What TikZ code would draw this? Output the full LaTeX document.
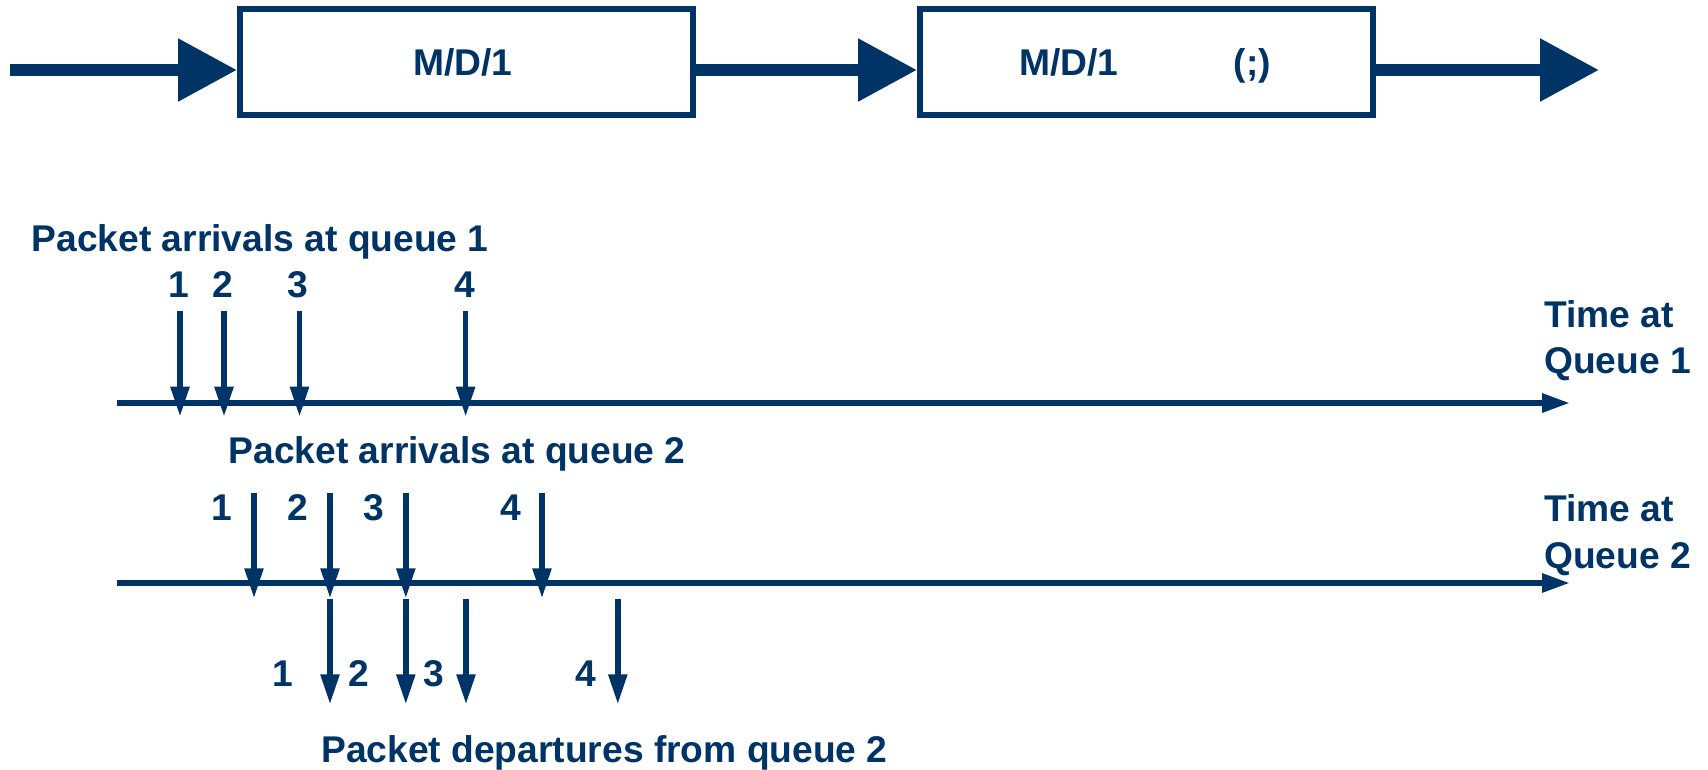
\documentclass[tikz,border=0pt]{standalone}
\usepackage{fontspec}
\setmainfont{Liberation Sans}
\usetikzlibrary{arrows.meta}
\definecolor{navy}{RGB}{0,51,102}
\begin{document}
\begin{tikzpicture}[x=1pt,y=-1pt,
  every node/.style={text=navy,font=\fontsize{37.2}{44}\selectfont\bfseries,inner sep=0pt},
  flow/.style={draw=navy,line width=12pt,-{Triangle[length=59pt,width=60pt]}},
  queuebox/.style={draw=navy,line width=6pt,minimum width=453pt,minimum height=106pt},
  boxlabel/.style={text height=26pt,text depth=0pt},
  axis/.style={draw=navy,line width=6pt,-{Triangle[length=28pt,width=18pt]}},
  tick/.style={draw=navy,line width=5.5pt,-{Triangle[length=30pt,width=18pt]}},
  num/.style={anchor=base},
  caption/.style={anchor=base west}]
\useasboundingbox (0,0) rectangle (1708,769);

% the two queues in tandem
\node[queuebox] (q1) at (466.5,62) {};
\node[queuebox] (q2) at (1146.5,62) {};
\node[boxlabel] (q1a) at (463,62) {M/D/1};
\node[boxlabel] (q2a) at (1069,62) {M/D/1};
\node[boxlabel] (q2b) at (1252.5,62) {(;)};

% packet flow through the queues
\coordinate (in) at (10,70);
\coordinate (out) at (1599,70);
\draw[flow] (in) -- (in -| q1.west);
\draw[flow] (in -| q1.east) -- (in -| q2.west);
\draw[flow] (in -| q2.east) -- (out);

% time axes
\coordinate (t1s) at (117,403);
\coordinate (t1e) at (1570,403);
\coordinate (t2s) at (117,583);
\coordinate (t2e) at (1570,583);
\draw[axis] (t1s) -- (t1e);
\draw[axis] (t2s) -- (t2e);

% axis captions
\node[caption] (arr1) at (31.5,251) {Packet arrivals at queue 1};
\node[caption] (arr2) at (228.5,463) {Packet arrivals at queue 2};
\node[caption] (dep2) at (321,762) {Packet departures from queue 2};
\node[caption] (tq1a) at (1544,327) {Time at};
\node[caption] (tq1b) at (1544,373.3) {Queue 1};
\node[caption] (tq2a) at (1544,521.7) {Time at};
\node[caption] (tq2b) at (1544,568) {Queue 2};

% arrivals at queue 1
\foreach \i/\x/\lx in {1/180/178.6,2/224/223,3/299.5/298,4/465.6/465} {
  \coordinate (a\i top) at (\x,311);
  \coordinate (a\i tip) at (\x,416.7);
  \draw[tick] (a\i top) -- (a\i tip);
  \node[num] (a\i lab) at (\lx,297) {\i};
}

% arrivals at queue 2
\foreach \i/\x/\lx in {1/254/221.7,2/330/298,3/405.8/374,4/542/510.6} {
  \coordinate (b\i top) at (\x,493.3);
  \coordinate (b\i tip) at (\x,598.3);
  \draw[tick] (b\i top) -- (b\i tip);
  \node[num] (b\i lab) at (\lx,520) {\i};
}

% departures from queue 2
\foreach \i/\x/\lx in {1/330/282.5,2/405.8/358.7,3/466/434,4/617.8/586} {
  \coordinate (d\i top) at (\x,599);
  \coordinate (d\i tip) at (\x,704.3);
  \draw[tick] (d\i top) -- (d\i tip);
  \node[num] (d\i lab) at (\lx,686.7) {\i};
}
\end{tikzpicture}
\end{document}
